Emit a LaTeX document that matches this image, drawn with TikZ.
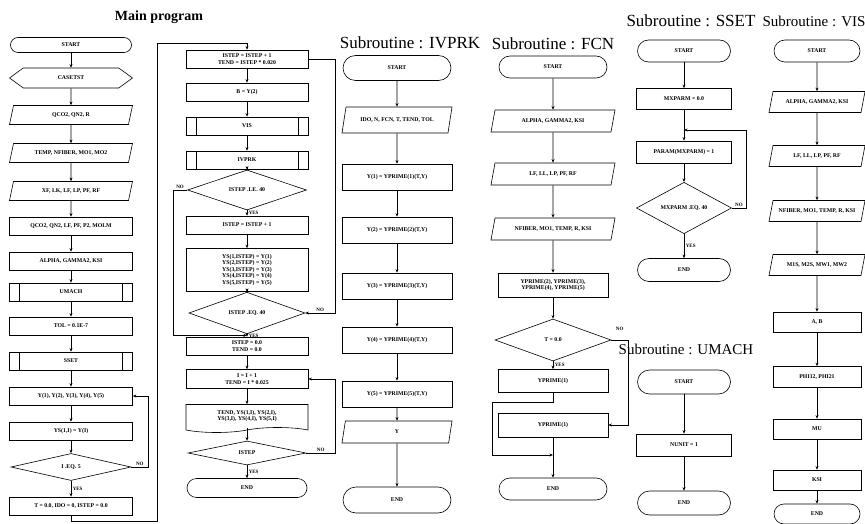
\documentclass[tikz,border=0pt]{standalone}
\usepackage{fontspec}
\setmainfont{Liberation Serif}
\usetikzlibrary{shapes.geometric, shapes.misc, shapes.symbols, arrows.meta, calc}
\tikzset{
  chart/.style = {
    font=\fontsize{5.8}{6.4}\selectfont\bfseries,
    line width=0.6pt, >={Stealth[length=3.6pt, width=3pt]},
  },
  term/.style = {
    rounded rectangle, draw, align=center, inner sep=1pt,
  },
  proc/.style = {
    rectangle, draw, align=center, inner sep=1pt, minimum height=18pt,
  },
  sub/.style = {
    proc, path picture={
      \draw ([xshift=10pt]path picture bounding box.north west)
         -- ([xshift=10pt]path picture bounding box.south west);
      \draw ([xshift=-10pt]path picture bounding box.north east)
         -- ([xshift=-10pt]path picture bounding box.south east);
    },
  },
  io/.style = {
    trapezium, trapezium left angle=55, trapezium right angle=125,
    trapezium stretches body, draw, align=center, inner sep=0.5pt,
  },
  hexa/.style = {
    signal, signal to=west and east, signal pointer angle=72,
    draw, align=center, inner sep=1pt,
  },
  doc/.style = {
    tape, tape bend top=none, tape bend bottom=in and out,
    tape bend height=5pt, draw, align=center, inner sep=1pt,
  },
  dec/.style = {
    diamond, draw, align=center, inner sep=0pt,
  },
  title/.style = {font=\fontsize{17}{19}\selectfont},
  arr/.style = {->, draw=black},
  lbl/.style = {font=\fontsize{5}{5.5}\selectfont\bfseries, inner sep=1.5pt},
}

\begin{document}
\begin{tikzpicture}[chart, x=1pt, y=1pt,
  mw/.style = {minimum width=123pt},
  cw/.style = {minimum width=122pt},
  iw/.style = {minimum width=110pt},
  fw/.style = {minimum width=110pt},
  sw/.style = {minimum width=95pt},
  vw/.style = {minimum width=88pt}]

\useasboundingbox (0,0) rectangle (865,-524);

% main program, left column
\node[title, font=\fontsize{14}{16}\selectfont\bfseries] (tmain) at (159,-17) {Main program};
\node[term, mw, minimum height=15pt] (m0)  at (71,-45)  {START};
\node[hexa, mw, minimum height=20pt] (m1)  at (71,-78)  {CASETST};
\node[io, mw, minimum height=19pt]   (m2)  at (71,-115) {QCO2, QN2, R};
\node[io, mw, minimum height=19pt]   (m3)  at (71,-153) {TEMP, NFIBER, MO1, MO2};
\node[io, mw, minimum height=19pt]   (m4)  at (71,-191) {XF, LK, LF, LP, PF, RF};
\node[proc, mw] (m5)  at (71,-226) {QCO2, QN2, LF, PF, P2, MOLM};
\node[proc, mw] (m6)  at (71,-261) {ALPHA, GAMMA2, KSI};
\node[sub, mw]  (m7)  at (71,-292) {UMACH};
\node[proc, mw] (m8)  at (71,-326) {TOL = 0.1E-7};
\node[sub, mw]  (m9)  at (71,-361) {SSET};
\node[proc, mw] (m10) at (71,-396) {Y(1), Y(2), Y(3), Y(4), Y(5)};
\node[proc, mw] (m11) at (71,-431) {YS(1,I) = Y(I)};
\node[dec, minimum width=120pt, minimum height=27pt] (m12) at (71,-467) {I .EQ. 5};
\node[proc, mw] (m13) at (71,-506) {T = 0.0, IDO = 0, ISTEP = 0.0};

% main program, right column
\node[proc, cw] (n0)  at (247,-59)  {ISTEP = ISTEP + 1\\TEND = ISTEP * 0.020};
\node[proc, cw] (n1)  at (247,-92)  {B = Y(2)};
\node[sub, cw]  (n2)  at (247,-126) {VIS};
\node[sub, cw]  (n3)  at (247,-160) {IVPRK};
\node[dec, minimum width=119pt, minimum height=25pt] (n4) at (247,-190) {ISTEP .LE. 40};
\node[proc, cw] (n5)  at (247,-225) {ISTEP = ISTEP + 1};
\node[proc, cw, minimum height=43pt] (n6) at (247,-270)
  {YS(1,ISTEP) = Y(1)\\YS(2,ISTEP) = Y(2)\\YS(3,ISTEP) = Y(3)\\YS(4,ISTEP) = Y(4)\\YS(5,ISTEP) = Y(5)};
\node[dec, minimum width=116pt, minimum height=22pt] (n7) at (247,-313) {ISTEP .EQ. 40};
\node[proc, cw] (n8)  at (247,-346) {ISTEP = 0.0\\TEND = 0.0};
\node[proc, cw, minimum height=19pt] (n9) at (247,-379) {I = I + 1\\TEND = I * 0.025};
\node[doc, cw, minimum height=28pt] (n10) at (247,-416) {TEND, YS(1,I), YS(2,I),\\YS(3,I), YS(4,I), YS(5,I)};
\node[dec, minimum width=118pt, minimum height=24pt] (n11) at (247,-453) {ISTEP};
\node[term, cw, minimum height=19pt] (n12) at (247,-488) {END};

% subroutine IVPRK
\node[title] (tiv) at (410,-43) {Subroutine : IVPRK};
\node[term, iw, minimum height=25pt] (i0) at (397,-68)  {START};
\node[io, iw, minimum height=26pt]   (i1) at (397,-120) {IDO, N, FCN, T, TEND, TOL};
\node[proc, iw, minimum height=26pt] (i2) at (397,-177) {Y(1) = YPRIME(1)(T,Y)};
\node[proc, iw, minimum height=26pt] (i3) at (397,-230) {Y(2) = YPRIME(2)(T,Y)};
\node[proc, iw, minimum height=26pt] (i4) at (397,-286) {Y(3) = YPRIME(3)(T,Y)};
\node[proc, iw, minimum height=26pt] (i5) at (397,-340) {Y(4) = YPRIME(4)(T,Y)};
\node[proc, iw, minimum height=26pt] (i6) at (397,-394) {Y(5) = YPRIME(5)(T,Y)};
\node[io, iw, minimum height=22pt]   (i7) at (397,-432) {Y};
\node[term, iw, minimum height=26pt] (i8) at (397,-500) {END};

% subroutine FCN
\node[title] (tfc) at (553,-44) {Subroutine : FCN};
\node[term, fw, minimum height=22pt] (f0) at (553,-67)  {START};
\node[io, minimum width=124pt, minimum height=22pt] (f1) at (553,-121) {ALPHA, GAMMA2, KSI};
\node[io, minimum width=124pt, minimum height=22pt] (f2) at (553,-174) {LF, LL, LP, PF, RF};
\node[io, minimum width=124pt, minimum height=22pt] (f3) at (553,-229) {NFIBER, MO1, TEMP, R, KSI};
\node[proc, fw, minimum height=24pt] (f4) at (553,-285) {YPRIME(2), YPRIME(3),\\YPRIME(4), YPRIME(5)};
\node[dec, minimum width=116pt, minimum height=42pt] (f5) at (553,-340) {T = 0.0};
\node[proc, fw, minimum height=23pt] (f6) at (553,-381) {YPRIME(1)};
\node[proc, fw, minimum height=24pt] (f7) at (553,-425) {YPRIME(1)};
\node[term, fw, minimum height=22pt] (f8) at (553,-489) {END};

% subroutine SSET
\node[title] (tss) at (691,-21) {Subroutine : SSET};
\node[term, sw, minimum height=22pt] (s0) at (684,-51)  {START};
\node[proc, sw, minimum height=21pt] (s1) at (684,-99)  {MXPARM = 0.0};
\node[proc, sw, minimum height=22pt] (s2) at (684,-152) {PARAM(MXPARM) = 1};
\node[dec, minimum width=95pt, minimum height=40pt] (s3) at (684,-208) {MXPARM .EQ. 40};
\node[term, sw, minimum height=23pt] (s4) at (684,-270) {END};

% subroutine UMACH
\node[title, font=\fontsize{15}{17}\selectfont] (tum) at (686,-349) {Subroutine : UMACH};
\node[term, sw, minimum height=24pt] (u0) at (684,-382) {START};
\node[proc, sw, minimum height=22pt] (u1) at (684,-445) {NUNIT = 1};
\node[term, sw, minimum height=24pt] (u2) at (684,-503) {END};

% subroutine VIS
\node[title, font=\fontsize{15}{17}\selectfont] (tvi) at (814,-21) {Subroutine : VIS};
\node[term, vw, minimum height=22pt] (v0) at (817,-51)  {START};
\node[io, minimum width=96pt, minimum height=21pt] (v1) at (817,-102) {ALPHA, GAMMA2, KSI};
\node[io, minimum width=96pt, minimum height=21pt] (v2) at (817,-156) {LF, LL, LP, PF, RF};
\node[io, minimum width=96pt, minimum height=21pt] (v3) at (817,-211) {NFIBER, MO1, TEMP, R, KSI};
\node[io, minimum width=96pt, minimum height=21pt] (v4) at (817,-265) {M1S, M2S, MW1, MW2};
\node[proc, vw, minimum height=20pt] (v5) at (817,-322) {A, B};
\node[proc, vw, minimum height=21pt] (v6) at (817,-377) {PHI12, PHI21};
\node[proc, vw, minimum height=20pt] (v7) at (817,-429) {MU};
\node[proc, vw, minimum height=20pt] (v8) at (817,-480) {KSI};
\node[term, vw, minimum height=20pt] (v9) at (817,-514) {END};

% main program, left column
\draw[arr] (m0.south) -- (m1.north);
\draw[arr] (m1.south) -- (m2.north);
\draw[arr] (m2.south) -- (m3.north);
\draw[arr] (m3.south) -- (m4.north);
\draw[arr] (m4.south) -- (m5.north);
\draw[arr] (m5.south) -- (m6.north);
\draw[arr] (m6.south) -- (m7.north);
\draw[arr] (m7.south) -- (m8.north);
\draw[arr] (m8.south) -- (m9.north);
\draw[arr] (m9.south) -- (m10.north);
\draw[arr] (m10.south) -- (m11.north);
\draw[arr] (m11.south) -- (m12.north);
\draw[arr] (m12.east) -- node[lbl, above] {NO} ++(17,0) |- (m10.east);
\draw[arr] (m12.south) -- node[lbl, right] {YES} (m13.north);
\coordinate (mb) at (157,-521);
\coordinate (mt) at (157,-43);
\draw[arr] (m13.south) |- (mb) -- (mt) -| (n0.north);

% main program, right column
\draw[arr] (n0.south) -- (n1.north);
\draw[arr] (n1.south) -- (n2.north);
\draw[arr] (n2.south) -- (n3.north);
\draw[arr] (n3.south) -- (n4.north);
\draw[arr] (n4.south) -- node[lbl, right] {YES} (n5.north);
\draw[arr] (n5.south) -- (n6.north);
\draw[arr] (n6.south) -- (n7.north);
\draw[arr] (n7.south) -- node[lbl, right] {YES} (n8.north);
\coordinate (nj) at ($(n7.south)!0.5!(n8.north)$);
\coordinate (nl) at (173,-190);
\draw[arr] (n4.west) -- node[lbl, above] {NO} (nl) |- (nj);
\coordinate (nr1) at (335,-313);
\draw[arr] (n0.east) -| (nr1) -- node[lbl, above] {NO} (n7.east);
\draw[arr] (n8.south) -- (n9.north);
\draw[arr] (n9.south) -- (n10.north);
\draw[arr] (n10.south) -- (n11.north);
\coordinate (nr2) at (335,-453);
\draw[arr] (n11.east) -- node[lbl, above] {NO} (nr2) |- (n9.east);
\draw[arr] (n11.south) -- node[lbl, right] {YES} (n12.north);

% IVPRK
\draw[arr] (i0.south) -- (i1.north);
\draw[arr] (i1.south) -- (i2.north);
\draw[arr] (i2.south) -- (i3.north);
\draw[arr] (i3.south) -- (i4.north);
\draw[arr] (i4.south) -- (i5.north);
\draw[arr] (i5.south) -- (i6.north);
\draw[arr] (i6.south) -- (i7.north);
\draw[arr] (i7.south) -- (i8.north);

% FCN
\draw[arr] (f0.south) -- (f1.north);
\draw[arr] (f1.south) -- (f2.north);
\draw[arr] (f2.south) -- (f3.north);
\draw[arr] (f3.south) -- (f4.north);
\draw[arr] (f4.south) -- (f5.north);
\draw[arr] (f5.south) -- node[lbl, right] {YES} (f6.north);
\coordinate (fr) at (628,-340);
\draw[arr] (f5.east) -- node[lbl, above=8pt] {NO} (fr) |- (f7.east);
\coordinate (fl) at (492,-402);
\coordinate (fj) at (553,-455);
\draw[arr] (f6.south) |- (fl) |- (fj);
\draw[arr] (f7.south) -- (f8.north);

% SSET
\draw[arr] (s0.south) -- (s1.north);
\draw[arr] (s1.south) -- (s2.north);
\draw[arr] (s2.south) -- (s3.north);
\coordinate (sr) at (746,-208);
\coordinate (sj) at (684,-130);
\draw[arr] (s3.east) -- node[lbl, above] {NO} (sr) |- (sj);
\draw[arr] (s3.south) -- node[lbl, right] {YES} (s4.north);

% UMACH
\draw[arr] (u0.south) -- (u1.north);
\draw[arr] (u1.south) -- (u2.north);

% VIS
\draw[arr] (v0.south) -- (v1.north);
\draw[arr] (v1.south) -- (v2.north);
\draw[arr] (v2.south) -- (v3.north);
\draw[arr] (v3.south) -- (v4.north);
\draw[arr] (v4.south) -- (v5.north);
\draw[arr] (v5.south) -- (v6.north);
\draw[arr] (v6.south) -- (v7.north);
\draw[arr] (v7.south) -- (v8.north);
\draw[arr] (v8.south) -- (v9.north);

\end{tikzpicture}
\end{document}
